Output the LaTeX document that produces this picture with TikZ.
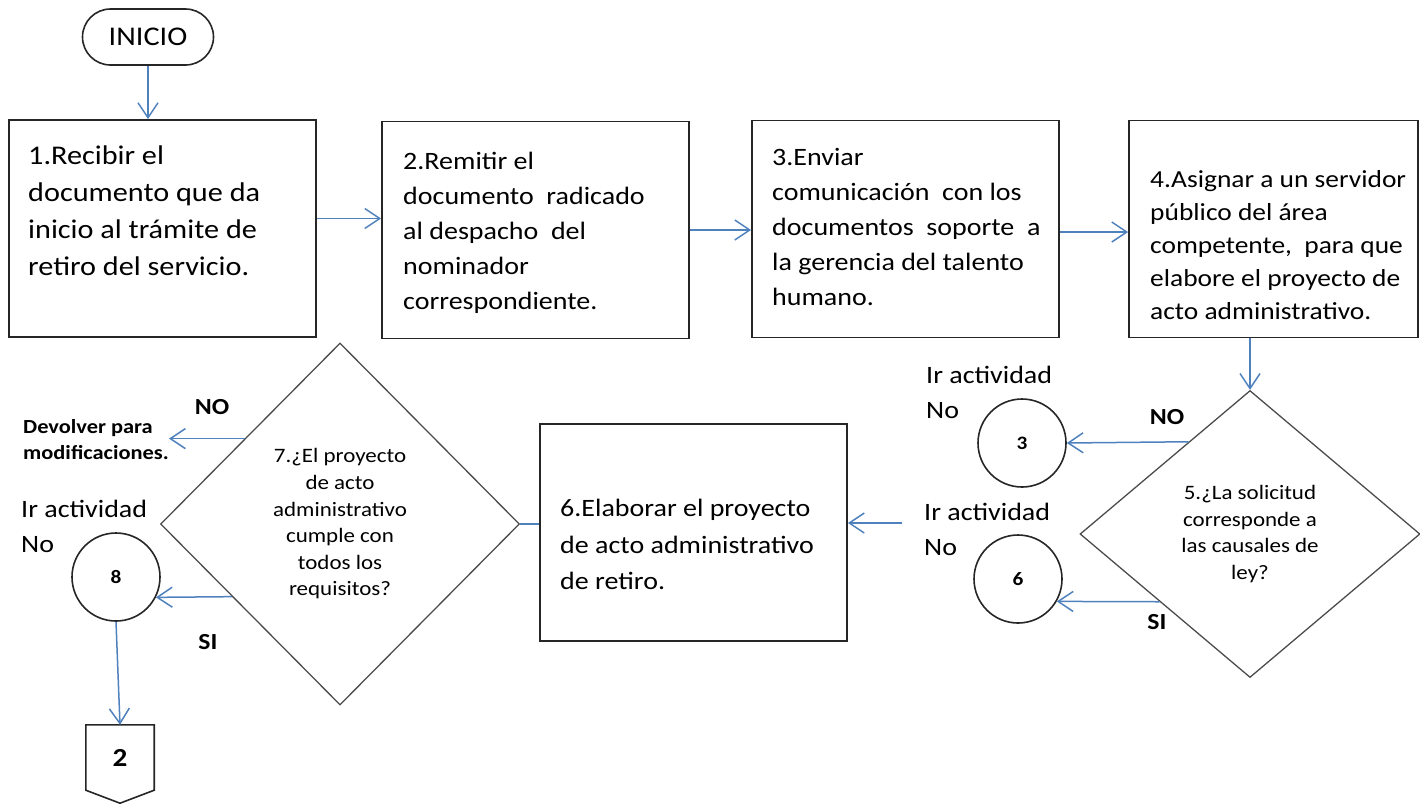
\documentclass[tikz,border=0pt]{standalone}
\usepackage{fontspec}
\setmainfont{Carlito}[FakeStretch=1.12]
\usetikzlibrary{arrows.meta,calc,shapes.geometric}
\definecolor{flujo}{RGB}{79,129,189}
\begin{document}
\begin{tikzpicture}[x=1pt,y=-1pt,
    caja/.style={draw=black!85,line width=1.8pt,minimum width=307pt,minimum height=217pt,inner sep=0pt},
    texto/.style={anchor=base west,align=left,inner sep=0pt},
    rombo/.style={draw=black!70,line width=1.3pt,diamond,inner sep=0pt,align=center,font=\fontsize{20.5}{26.6}\selectfont},
    conector/.style={draw=black!85,line width=1.6pt,circle,minimum size=88pt,inner sep=0pt,font=\bfseries\fontsize{19}{22}\selectfont},
    nota/.style={anchor=base west,align=left,inner sep=0pt,font=\fontsize{25}{35}\selectfont},
    resp/.style={inner sep=0pt,font=\bfseries\fontsize{23}{28}\selectfont},
    flecha/.style={draw=flujo,line width=1.5pt,-{Straight Barb[length=15pt,width=20pt]}},
    linea/.style={draw=flujo,line width=1.5pt}]
  \useasboundingbox (0,0) rectangle (1420,804);
  % fila superior
  \node[draw=black!85,line width=1.6pt,rounded corners=28pt,minimum width=131pt,minimum height=56pt,
        font=\fontsize{27}{32}\selectfont] (inicio) at (148,37) {INICIO};
  \node[caja] (b1) at (162.5,228.5) {};
  \node[caja] (b2) at (535.5,230) {};
  \node[caja] (b3) at (905.5,229) {};
  \node[caja,minimum width=289pt] (b4) at (1273.5,229) {};
  % base = ultima linea
  \node[texto,font=\fontsize{27}{36.7}\selectfont] (t1) at (28,275)
    {1.Recibir el\\documento que da\\inicio al trámite de\\retiro del servicio.};
  \node[texto,font=\fontsize{25}{35}\selectfont] (t2) at (403,309.5)
    {2.Remitir el\\documento\ \ radicado\\al despacho\ \ del\\nominador\\correspondiente.};
  \node[texto,font=\fontsize{25}{35}\selectfont] (t3) at (772,305.5)
    {3.Enviar\\comunicación\ \ con los\\documentos\ \ soporte\ \ a\\la gerencia del talento\\humano.};
  \node[texto,font=\fontsize{24.5}{33}\selectfont] (t4) at (1150,319)
    {4.Asignar a un servidor\\público del área\\competente,\ \ para que\\elabore el proyecto de\\acto administrativo.};
  % fila inferior
  \node[rombo,minimum width=340pt,minimum height=287pt] (d5) at (1250,534)
    {5.¿La solicitud\\corresponde a\\las causales de\\ley?};
  \node[conector] (c3) at (1022,443) {3};
  \node[conector] (c6) at (1018,579) {6};
  \node[nota] (l3) at (926,418) {Ir actividad\\No};
  \node[nota] (l6) at (924,555) {Ir actividad\\No};
  \node[resp] (no5) at (1167,417) {NO};
  \node[resp] (si5) at (1157,622) {SI};
  \node[caja] (b6) at (693.5,532.5) {};
  \node[texto,font=\fontsize{25}{36.5}\selectfont] (t6) at (560,589.5)
    {6.Elaborar el proyecto\\de acto administrativo\\de retiro.};
  \coordinate (s6) at (902,523);
  \node[rombo,minimum width=359pt,minimum height=362pt] (d7) at (340,524)
    {7.¿El proyecto\\de acto\\administrativo\\cumple con\\todos los\\requisitos?};
  \node[texto,font=\bfseries\fontsize{20}{26}\selectfont] (dev) at (23,459)
    {Devolver para\\modificaciones.};
  \node[resp] (no7) at (212,407) {NO};
  \node[resp] (si7) at (208,642) {SI};
  \node[conector] (c8) at (116,577) {8};
  \node[nota] (l8) at (21,552) {Ir actividad\\No};
  \node[minimum width=68pt,minimum height=65pt,inner sep=0pt,
        font=\bfseries\fontsize{26}{30}\selectfont] (p2) at (120,757.5) {2};
  \draw[black!85,line width=1.6pt] (p2.north west) -- (p2.north east) -- (p2.south east)
    -- ([yshift=-13pt]p2.south) -- (p2.south west) -- cycle;
  % salidas de los rombos
  \coordinate (n5) at ($(d5.west)!0.64!(d5.north)$);
  \coordinate (y5) at ($(d5.west)!0.47!(d5.south)$);
  \coordinate (n7) at ($(d7.west)!0.47!(d7.north)$);
  \coordinate (y7) at ($(d7.west)!0.4!(d7.south)$);
  % conectores
  \draw[flecha] (inicio.south) -- (inicio.south |- b1.north);
  \draw[flecha] ([yshift=10pt]b1.east) -- ([yshift=10pt]b1.east -| b2.west);
  \draw[flecha] (b2.east) -- (b2.east -| b3.west);
  \draw[flecha] ([yshift=-3pt]b3.east) -- ([yshift=-3pt]b3.east -| b4.west);
  \draw[flecha] (d5.north |- b4.south) -- (d5.north);
  \draw[flecha] (n5) -- (c3.east);
  \draw[flecha] (y5) -- (c6.-30);
  \draw[flecha] (s6) -- (s6 -| b6.east);
  \draw[linea] (d7.east) -- (d7.east -| b6.west);
  \draw[flecha] (n7) -- (n7 -| dev.east);
  \draw[flecha] (y7) -- (c8.-27);
  \draw[flecha] (c8.south) -- (p2.north);
\end{tikzpicture}
\end{document}
